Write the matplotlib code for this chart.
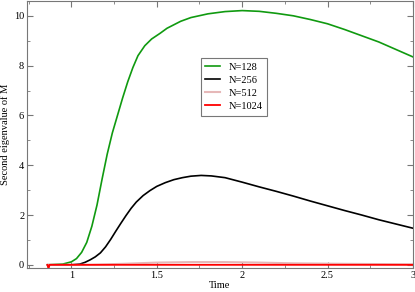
import matplotlib.pyplot as plt
from matplotlib.ticker import MultipleLocator

plt.rcParams['font.family'] = ['Liberation Serif', 'DejaVu Serif']

# N=128
t128 = [0.86, 0.95, 1.0, 1.03, 1.06, 1.09, 1.12, 1.15, 1.18, 1.21, 1.24, 1.27, 1.30,
        1.33, 1.36, 1.39, 1.43, 1.47, 1.52, 1.56, 1.64, 1.7, 1.8, 1.9, 2.0, 2.1, 2.2, 2.3,
        2.4, 2.5, 2.6, 2.7, 2.8, 2.9, 3.0]
v128 = [0.0, 0.03, 0.12, 0.25, 0.5, 0.9, 1.55, 2.4, 3.45, 4.45, 5.3, 6.0, 6.7,
        7.35, 7.92, 8.4, 8.8, 9.07, 9.3, 9.5, 9.78, 9.93, 10.08, 10.17, 10.21, 10.18, 10.1, 10.0,
        9.85, 9.68, 9.45, 9.2, 8.95, 8.65, 8.35]
# N=256
t256 = [0.86, 1.0, 1.05, 1.08, 1.11, 1.14, 1.17, 1.20, 1.23, 1.26, 1.29, 1.32, 1.35,
        1.38, 1.42, 1.46, 1.5, 1.55, 1.6, 1.65, 1.7, 1.76, 1.82, 1.9, 2.0, 2.1, 2.2,
        2.3, 2.4, 2.5, 2.6, 2.7, 2.8, 2.9, 3.0]
v256 = [0.0, 0.0, 0.03, 0.1, 0.2, 0.32, 0.48, 0.72, 1.02, 1.35, 1.67, 1.98, 2.27,
        2.52, 2.78, 2.98, 3.15, 3.3, 3.42, 3.5, 3.56, 3.59, 3.57, 3.5, 3.32, 3.13, 2.95,
        2.76, 2.56, 2.37, 2.18, 2.0, 1.81, 1.64, 1.47]
# N=512
t512 = [0.86, 1.1, 1.3, 1.5, 1.7, 1.9, 2.1, 2.3, 2.6, 3.0]
v512 = [0.0, 0.0, 0.04, 0.09, 0.11, 0.11, 0.09, 0.06, 0.04, 0.02]
# N=1024
t1024 = [0.86, 0.866, 0.872, 0.88, 3.0]
v1024 = [0.0, -0.16, 0.0, 0.0, 0.0]

fig = plt.figure(figsize=(4.15, 2.92), dpi=100)
ax = fig.add_axes([0.065, 0.082, 0.93, 0.915])

ax.plot(t128, v128, color='#109a10', lw=1.2, label='N=128')
ax.plot(t256, v256, color='black', lw=1.2, label='N=256')
ax.plot(t512, v512, color='#e6b8b8', lw=1.5, label='N=512')
ax.plot(t1024, v1024, color='#ff0000', lw=1.3, label='N=1024')

ax.set_xlim(0.74, 3.0)
ax.set_ylim(-0.13, 10.6)
ax.xaxis.set_major_locator(MultipleLocator(0.5))
ax.xaxis.set_minor_locator(MultipleLocator(0.25))
ax.yaxis.set_major_locator(MultipleLocator(2))
ax.yaxis.set_minor_locator(MultipleLocator(1))
ax.set_xticks([1, 1.5, 2, 2.5, 3])
ax.set_xticklabels(['1', '1.5', '2', '2.5', '3'])
ax.tick_params(which='both', direction='in', top=True, right=True, color='#777777',
               labelsize=7.5, pad=2)
ax.tick_params(which='major', length=4)
ax.tick_params(which='minor', length=2)
for s in ax.spines.values():
    s.set_color('#777777')

ax.set_xlabel('Time', fontsize=7.5, labelpad=1)
ax.set_ylabel('Second eigenvalue of M', fontsize=7.5, labelpad=3)

leg = ax.legend(loc='upper left', bbox_to_anchor=(0.45, 0.786), fontsize=7.5,
                fancybox=False, framealpha=1, handlelength=1.45, handletextpad=0.75,
                labelspacing=0.35, borderpad=0.45, borderaxespad=0)
leg.get_frame().set_edgecolor('#777777')
leg.get_frame().set_linewidth(0.8)

fig.savefig('out.png', dpi=100)
